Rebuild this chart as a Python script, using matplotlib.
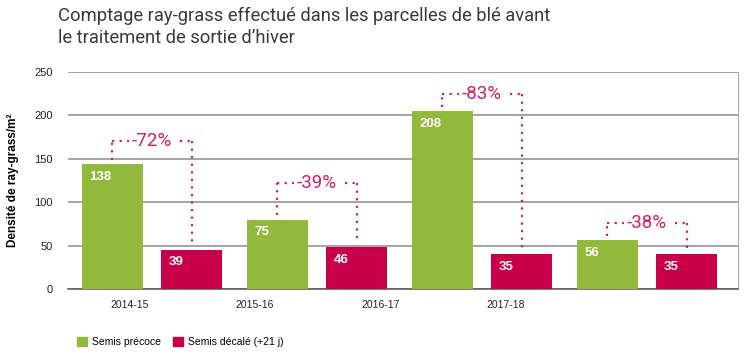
import matplotlib
matplotlib.use("Agg")
import matplotlib.pyplot as plt
import numpy as np
from matplotlib.patches import Patch

plt.rcParams['font.family'] = ['Liberation Sans', 'DejaVu Sans']

# données
saisons = ["2014-15", "2015-16", "2016-17", "2017-18"]
precoce_hauteur = [144, 80, 205, 56]      # hauteur des barres
decale_hauteur = [45.5, 48, 40, 40]
precoce_etiq = ["138", "75", "208", "56"]  # valeurs affichées
decale_etiq = ["39", "46", "35", "35"]
reduction = ["-72%", "-39%", "-83%", "-38%"]
niveau_accolade = [170, 122, 225, 76]

vert = "#93b93c"
rouge = "#c8004a"
rose = "#d41e62"
roboto = ['Roboto', 'Liberation Sans', 'DejaVu Sans']

fig = plt.figure(figsize=(7.5, 3.64), dpi=100)
ax = fig.add_axes([68 / 750, 1 - 289 / 364, (738 - 68) / 750, (289 - 72) / 364])

x = np.arange(len(saisons))
larg = 0.37
dx = 0.24
ax.bar(x - dx, precoce_hauteur, larg, color=vert, zorder=3)
ax.bar(x + dx, decale_hauteur, larg, color=rouge, zorder=3)

# etiquettes blanches dans les barres
for i in range(len(saisons)):
    ax.text(x[i] - dx - larg / 2 + 0.045, precoce_hauteur[i] - 14.5, precoce_etiq[i],
            color="white", fontsize=9.5, fontweight="bold", va="center", ha="left", zorder=4)
    ax.text(x[i] + dx - larg / 2 + 0.045, decale_hauteur[i] - 14.5, decale_etiq[i],
            color="white", fontsize=9.5, fontweight="bold", va="center", ha="left", zorder=4)

# accolades en pointillés
for i in range(len(saisons)):
    xl = x[i] - dx
    xr = x[i] + dx
    lvl = niveau_accolade[i]
    kw = dict(color=rose, lw=1.6, linestyle=(0, (1, 2.4)), zorder=5)
    ax.plot([xl, xl], [precoce_hauteur[i] + 5, lvl], **kw)
    ax.plot([xl, xr], [lvl, lvl], **kw)
    ax.plot([xr, xr], [lvl, decale_hauteur[i] + 5], **kw)
    ax.text(x[i], lvl, reduction[i], color=rose, fontsize=13.5, family=roboto,
            ha="center", va="center", zorder=6,
            bbox=dict(facecolor="white", edgecolor="none", pad=2))

ax.set_xlim(-0.509, 3.552)
ax.set_ylim(0, 250)
ax.set_yticks([0, 50, 100, 150, 200, 250])
ax.yaxis.grid(True, color="#8c8c8c", lw=1.1, zorder=0)
ax.tick_params(axis="y", length=0, labelsize=8, pad=11, labelcolor="#222222")
ax.tick_params(axis="x", length=0, labelsize=7.5, pad=8, labelcolor="#222222")
ax.set_xticks(np.arange(4) * 0.758 - 0.133)
ax.set_xticklabels(saisons)
for s in ["top", "left"]:
    ax.spines[s].set_visible(False)
ax.spines["right"].set_color("#aaaaaa")
ax.spines["bottom"].set_color("#555555")
ax.spines["bottom"].set_linewidth(1.1)

fig.text(13 / 750, 1 - 180 / 364, "Densité de ray-grass/m²", rotation=90, fontsize=8.5,
         fontweight="bold", ha="center", va="center")

fig.text(58 / 750, 1 - 7 / 364, "Comptage ray-grass effectué dans les parcelles de blé avant\nle traitement de sortie d\u2019hiver",
         fontsize=13.2, family=roboto, color="#3a3a3a",
         ha="left", va="top", linespacing=1.25)

handles = [Patch(color=vert, label="Semis précoce"), Patch(color=rouge, label="Semis décalé (+21 j)")]
fig.legend(handles=handles, loc="center left", bbox_to_anchor=(72 / 750, 1 - 342 / 364), ncol=2,
           frameon=False, fontsize=7.5, handlelength=0.9, handleheight=0.9, handletextpad=0.5,
           columnspacing=1.2, borderpad=0)

fig.savefig("out.png", dpi=100)
